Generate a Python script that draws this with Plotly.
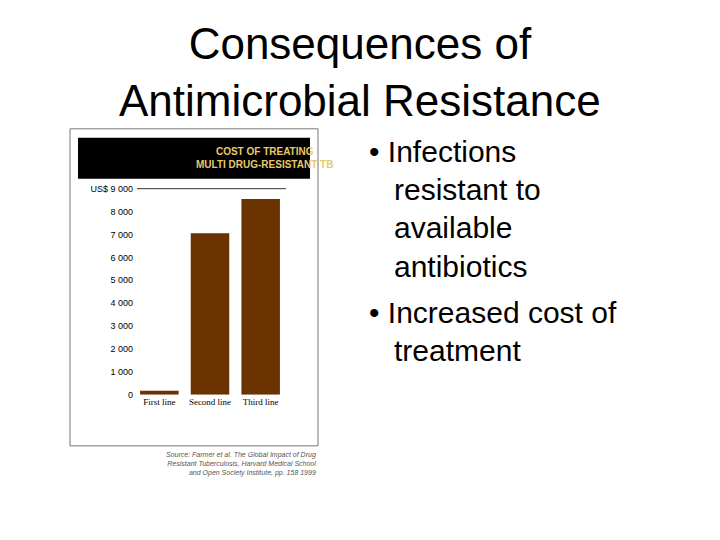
import plotly.graph_objects as go

categories = ["First line", "Second line", "Third line"]
costs = [180, 7050, 8550]
tick_vals = [0, 1000, 2000, 3000, 4000, 5000, 6000, 7000, 8000, 9000]
tick_text = ["0", "1 000", "2 000", "3 000", "4 000", "5 000", "6 000", "7 000", "8 000", "US$ 9 000"]
bullets = ["• Infections", "   resistant to", "   available", "   antibiotics",
           "• Increased cost of", "   treatment"]

W, H = 720, 540
OFF = 8  # page body margin


def px(x):
    return (x - OFF) / W


def py(y):
    return 1 - (y - OFF) / H


fig = go.Figure(go.Bar(x=categories, y=costs, marker=dict(color="#6b3300", line=dict(width=0)),
                       showlegend=False))

fig.update_layout(
    width=W, height=H, margin=dict(l=0, r=0, t=0, b=0),
    paper_bgcolor="white", plot_bgcolor="white", bargap=0.24,
    font=dict(family="Arial, Liberation Sans", color="black"),
    xaxis=dict(domain=[px(134), px(286)], showline=False, ticks="",
               tickfont=dict(size=9, family="Liberation Serif"), fixedrange=True),
    yaxis=dict(domain=[py(397), py(187)], range=[0, 9000], tickvals=tick_vals, ticktext=tick_text,
               showgrid=False, zeroline=False, tickfont=dict(size=9), ticks=""),
)

# frame of pasted picture, header and top axis line
fig.add_shape(type="rect", xref="paper", yref="paper", x0=px(70), x1=px(318), y0=py(449), y1=py(126),
              line=dict(color="#777", width=1))
fig.add_shape(type="rect", xref="paper", yref="paper", x0=px(78), x1=px(310), y0=py(177), y1=py(135),
              fillcolor="black", line=dict(width=0))
fig.add_shape(type="line", xref="paper", yref="paper", x0=px(137), x1=px(286), y0=py(187), y1=py(187),
              line=dict(color="#333", width=1))
fig.add_annotation(xref="paper", yref="paper", x=px(194), y=py(156), yanchor="middle", showarrow=False,
                   text="<b>COST OF TREATING<br>MULTI DRUG-RESISTANT TB</b>",
                   font=dict(size=10, color="#e8c96a", family="Arial, Liberation Sans"))
fig.add_annotation(xref="paper", yref="paper", x=px(318), y=py(467), xanchor="right", yanchor="middle",
                   align="right", showarrow=False,
                   text="<i>Source: Farmer et al. The Global Impact of Drug<br>Resistant Tuberculosis, Harvard Medical School<br>and Open Society Institute, pp. 158 1999</i>",
                   font=dict(size=7, color="#555"))

fig.add_annotation(xref="paper", yref="paper", x=px(360), y=py(68), yanchor="middle", showarrow=False,
                   text="Consequences of<br>Antimicrobial Resistance",
                   font=dict(size=44, family="Arial, Liberation Sans"))
ys = [149, 188, 227, 266, 313, 352]
for t, y in zip(bullets, ys):
    fig.add_annotation(xref="paper", yref="paper", x=px(367), y=py(y), xanchor="left", yanchor="middle",
                       showarrow=False, text=t.replace(" ", "&nbsp;"),
                       font=dict(size=30, family="Arial, Liberation Sans"))

fig.write_html("out.html")
